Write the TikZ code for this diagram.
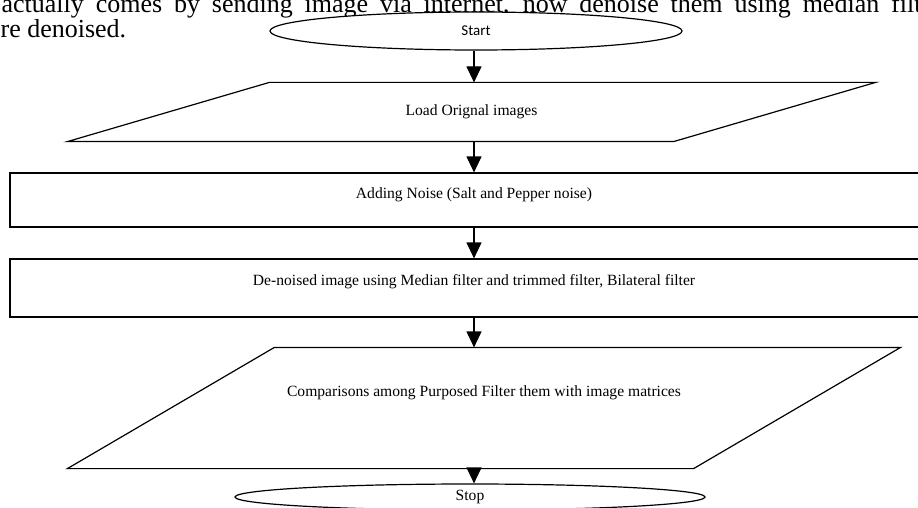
\documentclass[tikz,border=0pt]{standalone}
\usepackage{fontspec}
\setmainfont{Liberation Serif}
\newfontfamily\startfont{Carlito}
\usetikzlibrary{shapes.geometric,arrows.meta}

\begin{document}
\begin{tikzpicture}[x=1pt,y=-1pt,line width=1.2pt,
  flow/.style={-{Triangle[length=16pt,width=15pt]}},
  term/.style={ellipse,draw,fill=white,inner sep=0pt},
  io/.style={rectangle,inner sep=0pt},
  proc/.style={rectangle,draw,inner sep=0pt,minimum width=928pt},
  textlift/.style={text height=11pt,text depth=#1},
  every node/.style={font=\fontsize{15.6}{18}\selectfont}]

\useasboundingbox (0,0) rectangle (918,508);
\clip (0,0) rectangle (918,508);

\node [anchor=base west,inner sep=0pt,font=\fontsize{26}{28}\selectfont] (line1) at (1,13)
  {\makebox[940pt][s]{actually comes by sending image via internet, now denoise them using median filter}};
\node [anchor=base west,inner sep=0pt,font=\fontsize{26}{28}\selectfont] (line2) at (0,38) {re denoised.};

\node [term,minimum width=412pt,minimum height=38pt,font=\startfont\fontsize{15}{18}\selectfont] (start) at (476,31) {Start};

\node [io,minimum width=807pt,minimum height=58pt] (load) at (471.5,112) {Load Orignal images};
\draw ([xshift=202pt]load.north west) -- (load.north east) -- ([xshift=-202pt]load.south east) -- (load.south west) -- cycle;

\node [proc,minimum height=54pt,textlift=14pt] (noise) at (474,200) {Adding Noise (Salt and Pepper noise)};

\node [proc,minimum height=58pt,textlift=16pt] (denoise) at (474,288) {De-noised image using Median filter and trimmed filter, Bilateral filter};

\node [io,minimum width=832pt,minimum height=120pt,textlift=34pt] (compare) at (484,408) {Comparisons among Purposed Filter them with image matrices};
\draw ([xshift=207pt]compare.north west) -- (compare.north east) -- ([xshift=-207pt]compare.south east) -- (compare.south west) -- cycle;

\node [term,minimum width=470pt,minimum height=26pt] (stop) at (470,497) {Stop};

\draw [flow] (start.south -| noise) -- (noise |- load.north);
\draw [flow] (noise |- load.south) -- (noise.north);
\draw [flow] (noise.south) -- (denoise.north);
\draw [flow] (denoise.south) -- (denoise |- compare.north);
\draw [flow] (denoise |- compare.south) -- (denoise |- stop.north);
\end{tikzpicture}
\end{document}
